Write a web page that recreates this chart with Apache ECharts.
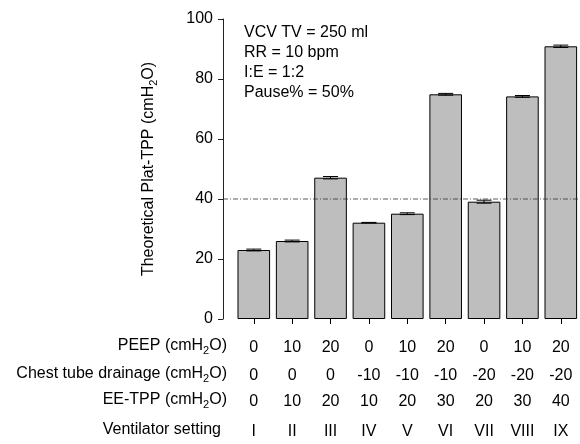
<!DOCTYPE html>
<html><head><meta charset="utf-8">
<script src="https://cdn.jsdelivr.net/npm/echarts@6/dist/echarts.min.js"></script>
<style>html,body{margin:0;padding:0;background:#fff}#c{width:580px;height:444px}</style>
</head><body><div id="c"></div>
<script>
const settings = ['I','II','III','IV','V','VI','VII','VIII','IX'];
const platTPP = [23.0, 26.0, 47.1, 32.1, 35.1, 74.9, 39.1, 74.2, 90.9];
const platErr = [0.3, 0.3, 0.4, 0.1, 0.3, 0.3, 0.5, 0.3, 0.4];
const peep = ['0','10','20','0','10','20','0','10','20'];
const chestTube = ['0','0','0','-10','-10','-10','-20','-20','-20'];
const eeTPP = ['0','10','20','10','20','30','20','30','40'];
const yTicks = [0, 20, 40, 60, 80, 100];
const threshold = [40];
const annotation = ['VCV TV = 250 ml', 'RR = 10 bpm', 'I:E = 1:2', 'Pause% = 50%'];

const FONT = 'Liberation Sans, Arial, sans-serif';
const FS = 16;
const chart = echarts.init(document.getElementById('c'), null, {renderer: 'canvas'});
const GL = 234.6, GW = 348.75, YOFF = 11.6;
const subRich = {
  n: {fontSize: FS, fontFamily: FONT, color: '#000', lineHeight: 20},
  s: {fontSize: 11, fontFamily: FONT, color: '#000', verticalAlign: 'bottom', lineHeight: 14}
};
function rowAxis(data, off) {
  return {type: 'category', data: data, gridIndex: 0, position: 'bottom', offset: off,
    axisLine: {show: false}, axisTick: {show: false}, splitLine: {show: false},
    axisLabel: {margin: 0, fontSize: FS, fontFamily: FONT, color: '#000', interval: 0}};
}
function header(txt, y, x) {
  return {type: 'text', right: 580 - x, top: y - 10, style: {text: txt, rich: subRich, textAlign: 'right', fill: '#000'}};
}
const option = {
  animation: false,
  backgroundColor: '#fff',
  grid: {left: GL, top: 19, width: GW, height: 300},
  xAxis: [
    {type: 'category', data: settings, offset: 2,
      axisLine: {show: false},
      axisTick: {show: true, alignWithLabel: true, length: 5, lineStyle: {color: '#000', width: 1}},
      axisLabel: {show: false}, splitLine: {show: false}},
    rowAxis(peep, 21),
    rowAxis(chestTube, 49),
    rowAxis(eeTPP, 75),
    rowAxis(settings, 105)
  ],
  yAxis: {type: 'value', min: 0, max: 100, interval: 20, offset: YOFF,
    axisLine: {show: true, lineStyle: {color: '#222', width: 1}},
    axisTick: {show: true, length: 5, lineStyle: {color: '#222'}},
    splitLine: {show: false},
    axisLabel: {margin: 10, fontSize: FS, fontFamily: FONT, color: '#000',
      formatter: v => yTicks.indexOf(v) >= 0 ? String(v) : ''},
    name: '{n|Theoretical Plat-TPP (cmH}{s|2}{n|O)}', nameLocation: 'middle', nameGap: 64,
    nameTextStyle: {rich: subRich}
  },
  graphic: [
    header('{n|PEEP (cmH}{s|2}{n|O)}', 348, 227),
    header('{n|Chest tube drainage (cmH}{s|2}{n|O)}', 376, 227),
    header('{n|EE-TPP (cmH}{s|2}{n|O)}', 402, 227),
    header('{n|Ventilator setting}', 432, 221),
    {type: 'text', left: 244, top: 23, style: {text: annotation.join('\n'), font: FS + 'px ' + FONT, fill: '#000', lineHeight: 19.8}}
  ],
  series: [
    {type: 'bar', data: platTPP, barWidth: 32.6, xAxisIndex: 0,
      itemStyle: {color: '#bebebe', borderColor: '#000', borderWidth: 1}, z: 2},
    {type: 'custom', xAxisIndex: 0, z: 3,
      data: platTPP.map((v, i) => [i, v, platErr[i]]),
      renderItem: (params, api) => {
        const i = api.value(0), v = api.value(1), e = api.value(2);
        const hi = api.coord([i, v + e]), lo = api.coord([i, v - e]);
        const hw = 7.5;
        const st = {stroke: '#000', lineWidth: 1};
        return {type: 'group', children: [
          {type: 'line', shape: {x1: hi[0], y1: hi[1], x2: lo[0], y2: lo[1]}, style: st},
          {type: 'line', shape: {x1: hi[0]-hw, y1: hi[1], x2: hi[0]+hw, y2: hi[1]}, style: st},
          {type: 'line', shape: {x1: lo[0]-hw, y1: lo[1], x2: lo[0]+hw, y2: lo[1]}, style: st}
        ]};
      }},
    {type: 'custom', xAxisIndex: 0, z: 4, clip: false,
      data: threshold.map(t => [0, t]),
      renderItem: (params, api) => {
        const p = api.coord([0, api.value(1)]);
        const cs = params.coordSys;
        return {type: 'line', shape: {x1: cs.x - YOFF, y1: p[1], x2: cs.x + cs.width, y2: p[1]},
          style: {stroke: '#333', lineWidth: 0.8, lineDash: [5, 2, 1, 2]}};
      }}
  ]
};
chart.setOption(option);
</script></body></html>
